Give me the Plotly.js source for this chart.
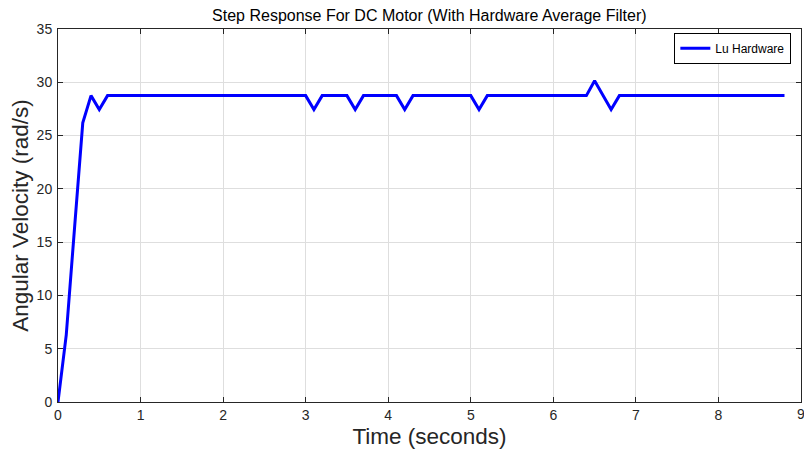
<!DOCTYPE html>
<html>
<head>
<meta charset="utf-8">
<script src="https://cdn.plot.ly/plotly-3.0.1.min.js"></script>
<style>html,body{margin:0;padding:0;background:#fff;overflow:hidden;}#chart{width:804px;height:454px;}</style>
</head>
<body>
<div id="chart"></div>
<script>
// Time samples (seconds), 0.1 s step
const timeSec = [0,0.1,0.2,0.3,0.4,0.5,0.6,0.7,0.8,0.9,
  1.0,1.1,1.2,1.3,1.4,1.5,1.6,1.7,1.8,1.9,
  2.0,2.1,2.2,2.3,2.4,2.5,2.6,2.7,2.8,2.9,
  3.0,3.1,3.2,3.3,3.4,3.5,3.6,3.7,3.8,3.9,
  4.0,4.1,4.2,4.3,4.4,4.5,4.6,4.7,4.8,4.9,
  5.0,5.1,5.2,5.3,5.4,5.5,5.6,5.7,5.8,5.9,
  6.0,6.1,6.2,6.3,6.4,6.5,6.6,6.7,6.8,6.9,
  7.0,7.1,7.2,7.3,7.4,7.5,7.6,7.7,7.8,7.9,
  8.0,8.1,8.2,8.3,8.4,8.5,8.6,8.7,8.8];
// Angular velocity (rad/s)
const luHardware = [0,6.3,16.3,26.2,28.75,27.45,28.75,28.75,28.75,28.75,
  28.75,28.75,28.75,28.75,28.75,28.75,28.75,28.75,28.75,28.75,
  28.75,28.75,28.75,28.75,28.75,28.75,28.75,28.75,28.75,28.75,
  28.75,27.45,28.75,28.75,28.75,28.75,27.45,28.75,28.75,28.75,
  28.75,28.75,27.45,28.75,28.75,28.75,28.75,28.75,28.75,28.75,
  28.75,27.45,28.75,28.75,28.75,28.75,28.75,28.75,28.75,28.75,
  28.75,28.75,28.75,28.75,28.75,30.15,28.75,27.45,28.75,28.75,
  28.75,28.75,28.75,28.75,28.75,28.75,28.75,28.75,28.75,28.75,
  28.75,28.75,28.75,28.75,28.75,28.75,28.75,28.75,28.75];
const xTicks = [0,1,2,3,4,5,6,7,8,9];
const yTicks = [0,5,10,15,20,25,30,35];
const seriesName = 'Lu Hardware';
const chartTitle = 'Step Response For DC Motor (With Hardware Average Filter)';
const xTitle = 'Time (seconds)';
const yTitle = 'Angular Velocity (rad/s)';

const FONT = 'Liberation Sans, Arial, Helvetica, sans-serif';
const AX = '#262626';

const trace = {
  x: timeSec, y: luHardware, type: 'scatter', mode: 'lines', name: seriesName,
  line: {color: '#0000ff', width: 3}
};

const axisCommon = {
  showline: true, mirror: 'ticks', linecolor: AX, linewidth: 1,
  ticks: 'inside', ticklen: 5, tickcolor: AX, tickwidth: 1,
  showgrid: true, gridcolor: '#dedede', gridwidth: 1,
  zeroline: false, tickfont: {family: FONT, size: 14, color: AX}
};

const lastTick = xTicks[xTicks.length - 1];

const layout = {
  width: 804, height: 454,
  paper_bgcolor: '#ffffff', plot_bgcolor: '#ffffff',
  margin: {l: 58, r: 3, t: 29, b: 52},
  title: {text: chartTitle, font: {family: FONT, size: 16, color: '#000'}, x: 0.534, xanchor: 'center', y: 0.965, yanchor: 'middle'},
  xaxis: Object.assign({}, axisCommon, {
    range: [0, 9], tickvals: xTicks, ticktext: xTicks.map(String),
    title: {text: xTitle, font: {family: FONT, size: 22.5, color: AX}, standoff: 6}
  }),
  yaxis: Object.assign({}, axisCommon, {
    range: [0, 35], tickvals: yTicks, ticktext: yTicks.map(String),
    ticklabelstandoff: 2,
    title: {text: yTitle, font: {family: FONT, size: 22.5, color: AX}, standoff: 1}
  }),
  annotations: [{
    x: lastTick, xref: 'x', y: 0, yref: 'paper', yanchor: 'top', yshift: -2,
    text: String(lastTick), showarrow: false, xanchor: 'center',
    font: {family: FONT, size: 14, color: AX}
  }],
  showlegend: true,
  legend: {
    x: 0.987, xanchor: 'right', y: 0.99, yanchor: 'top',
    bgcolor: '#ffffff', bordercolor: '#000', borderwidth: 1,
    font: {family: FONT, size: 12, color: '#000'},
    itemwidth: 30, tracegroupgap: 0
  }
};

Plotly.newPlot('chart', [trace], layout, {displayModeBar: false, staticPlot: true});
</script>
</body>
</html>
